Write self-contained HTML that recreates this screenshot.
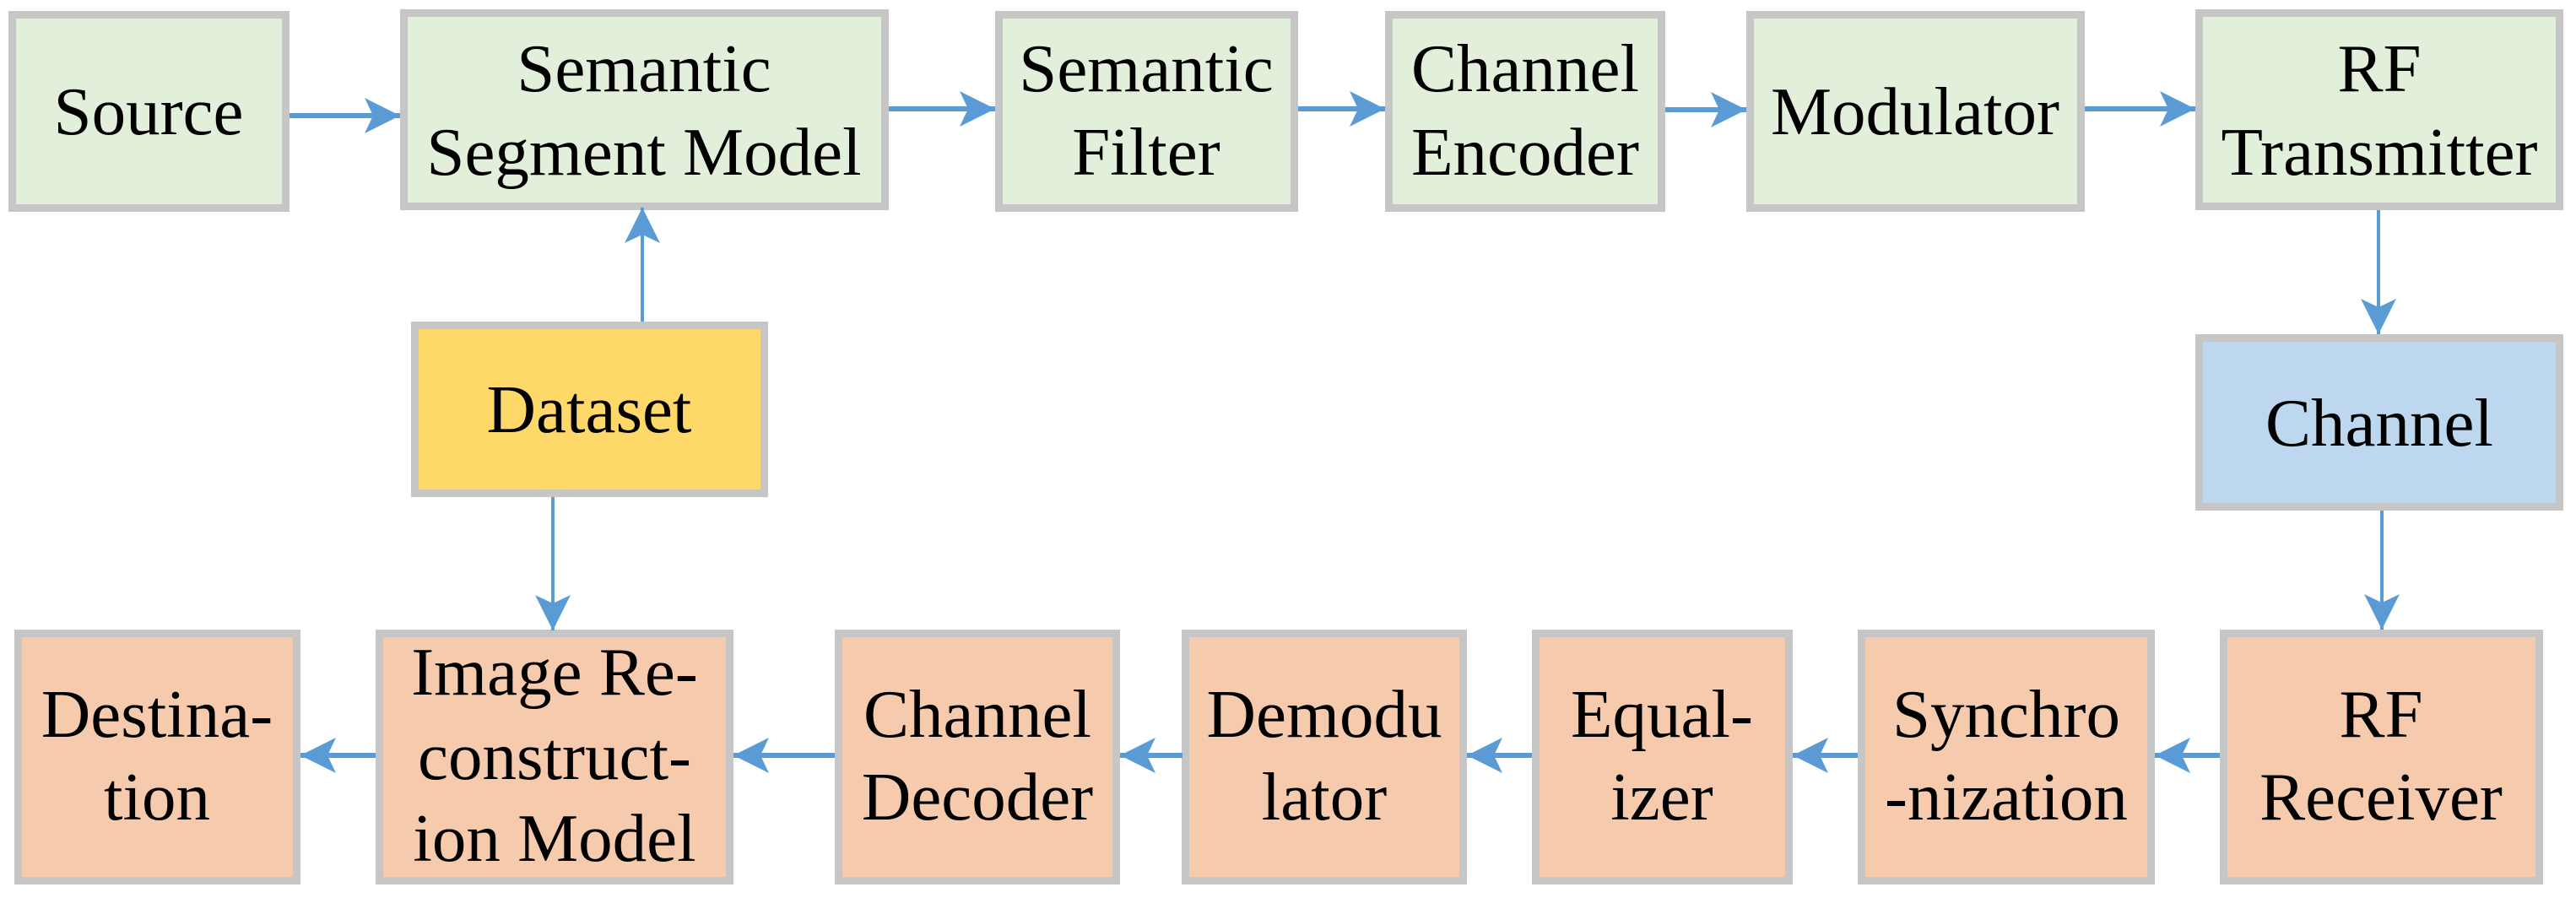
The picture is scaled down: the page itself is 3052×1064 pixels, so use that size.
<!DOCTYPE html>
<html><head><meta charset="utf-8"><style>
html,body{margin:0;padding:0;background:#fff;}
svg{display:block;}
text{font-family:"Liberation Serif","DejaVu Serif",serif;font-size:81px;fill:#000;text-anchor:middle;}
</style></head><body>
<svg width="3052" height="1064" viewBox="0 0 3052 1064" xmlns="http://www.w3.org/2000/svg">
<defs>
<marker id="ah" markerUnits="userSpaceOnUse" markerWidth="44" markerHeight="44" refX="42" refY="21" orient="auto">
<path d="M0,0 L42,21 L0,42 L10,21 Z" fill="#5b9bd5"/>
</marker>
</defs>
<g stroke="#c6c6c6" stroke-width="9">
<rect x="14.5" y="17.5" width="324" height="229" fill="#e2efda"/>
<rect x="478.5" y="15.5" width="570" height="229" fill="#e2efda"/>
<rect x="1183.5" y="17.5" width="350" height="229" fill="#e2efda"/>
<rect x="1645.5" y="17.5" width="323" height="229" fill="#e2efda"/>
<rect x="2073.5" y="17.5" width="392" height="229" fill="#e2efda"/>
<rect x="2605.5" y="15.5" width="427" height="229" fill="#e2efda"/>
<rect x="2605.5" y="400.5" width="427" height="200" fill="#bdd7ee"/>
<rect x="491.5" y="385.5" width="414" height="199" fill="#fed96a"/>
<rect x="21.5" y="750.5" width="330" height="293" fill="#f6cbad"/>
<rect x="449.5" y="750.5" width="415" height="293" fill="#f6cbad"/>
<rect x="993.5" y="750.5" width="329" height="293" fill="#f6cbad"/>
<rect x="1404.5" y="750.5" width="329" height="293" fill="#f6cbad"/>
<rect x="1819.5" y="750.5" width="300" height="293" fill="#f6cbad"/>
<rect x="2205.5" y="750.5" width="343" height="293" fill="#f6cbad"/>
<rect x="2634.5" y="750.5" width="374" height="293" fill="#f6cbad"/>
</g>
<g stroke="#5b9bd5" stroke-width="6" fill="none" marker-end="url(#ah)">
<line x1="343" y1="137" x2="474" y2="137"/>
<line x1="1053" y1="129" x2="1179" y2="129"/>
<line x1="1538" y1="129" x2="1641" y2="129"/>
<line x1="1973" y1="130" x2="2069" y2="130"/>
<line x1="2470" y1="129" x2="2601" y2="129"/>
<line x1="2630" y1="895" x2="2553" y2="895"/>
<line x1="2201" y1="895" x2="2124" y2="895"/>
<line x1="1815" y1="895" x2="1738" y2="895"/>
<line x1="1401" y1="895" x2="1327" y2="895"/>
<line x1="989" y1="895" x2="869" y2="895"/>
<line x1="445" y1="895" x2="356" y2="895"/>
</g>
<g stroke="#5b9bd5" stroke-width="4" fill="none" marker-end="url(#ah)">
<line x1="761" y1="381" x2="761" y2="246"/>
<line x1="655" y1="589" x2="655" y2="747"/>
<line x1="2818" y1="249" x2="2818" y2="396"/>
<line x1="2822" y1="605" x2="2822" y2="746"/>
</g>
<g font-family="Liberation Serif, DejaVu Serif, serif">
<text x="176" y="159">Source</text>
<text x="763" y="108">Semantic</text><text x="763" y="207">Segment Model</text>
<text x="1358" y="108">Semantic</text><text x="1358" y="207">Filter</text>
<text x="1807" y="108">Channel</text><text x="1807" y="207">Encoder</text>
<text x="2269" y="159">Modulator</text>
<text x="2819" y="108">RF</text><text x="2819" y="207">Transmitter</text>
<text x="2819" y="528">Channel</text>
<text x="698" y="512">Dataset</text>
<text x="186" y="873">Destina-</text><text x="186" y="971">tion</text>
<text x="657" y="823">Image Re-</text><text x="657" y="923">construct-</text><text x="657" y="1020">ion Model</text>
<text x="1158" y="873">Channel</text><text x="1158" y="971">Decoder</text>
<text x="1569" y="873">Demodu</text><text x="1569" y="971">lator</text>
<text x="1969" y="873">Equal-</text><text x="1969" y="971">izer</text>
<text x="2377" y="873">Synchro</text><text x="2377" y="971">-nization</text>
<text x="2821" y="873">RF</text><text x="2821" y="971">Receiver</text>
</g>
</svg>
</body></html>
